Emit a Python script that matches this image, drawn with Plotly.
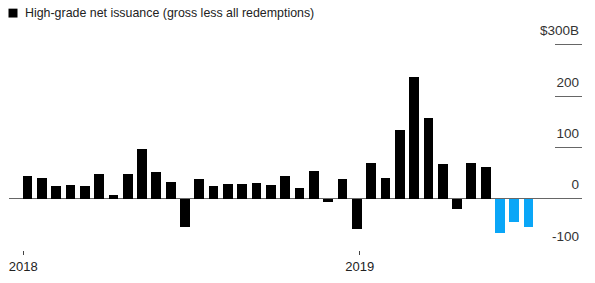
import plotly.graph_objects as go

# Data (semi-monthly periods, Jan 2018 - Jun 2019), $ billions
net_issuance = [45, 41, 25, 27, 24, 49, 8, 49, 97, 51, 33, -55,
                39, 24, 29, 29, 31, 27, 45, 21, 53, -6, 39, -59,
                69, 41, 133, 238, 158, 67, -20, 69, 61]
net_highlight = [-66, -46, -56]
year_ticks = [-0.3, 23.2]
year_labels = ["2018", "2019"]
y_ticks = [300, 200, 100, 0, -100]
y_labels = ["$300B", "200", "100", "0", "-100"]
legend_label = "High-grade net issuance (gross less all redemptions)"

x_main = list(range(len(net_issuance)))
x_high = list(range(len(net_issuance), len(net_issuance) + len(net_highlight)))

W, H = 595, 283
L, R, T, B = 9, 13, 20, 30
pw, ph = W - L - R, H - T - B
y_top = -100 + ph / 0.52

def px(x):
    return (x - L) / pw

def py(y):
    return (H - B - y) / ph

fig = go.Figure()
fig.add_trace(go.Bar(x=x_main, y=net_issuance, marker_color="#000000",
                     marker_line_width=0, width=0.68, showlegend=False))
fig.add_trace(go.Bar(x=x_high, y=net_highlight, marker_color="#0aa6f7",
                     marker_line_width=0, width=0.68, showlegend=False))

font = "Liberation Sans, Arial, sans-serif"

fig.add_shape(type="rect", xref="paper", yref="paper",
              x0=px(8.5), x1=px(17.5), y0=py(17.5), y1=py(8.5),
              fillcolor="#000000", line_width=0)
fig.add_annotation(text=legend_label, xref="paper", yref="paper",
                   x=px(23), y=py(13), xanchor="left", yanchor="middle",
                   showarrow=False, font=dict(family=font, size=12.4, color="#222"))

fig.update_layout(
    width=W, height=H,
    margin=dict(l=L, r=R, t=T, b=B, pad=0),
    paper_bgcolor="white", plot_bgcolor="white",
    bargap=0,
    xaxis=dict(range=[-1.29, 38.73], tickvals=year_ticks, ticktext=year_labels,
               ticks="outside", ticklen=4, tickwidth=1, tickcolor="#444",
               showgrid=False, zeroline=False, showline=False,
               tickfont=dict(family=font, size=13, color="#222")),
    yaxis=dict(range=[-100, y_top], side="right", tickvals=y_ticks, ticktext=y_labels,
               ticks="inside", ticklen=27, tickwidth=1.3, tickcolor="#666",
               ticklabelposition="inside top", ticklabelshift=-4,
               showgrid=False, zeroline=True, zerolinecolor="#666", zerolinewidth=1.3,
               showline=False,
               tickfont=dict(family=font, size=13.5, color="#333")),
)

fig.write_html("out.html")
